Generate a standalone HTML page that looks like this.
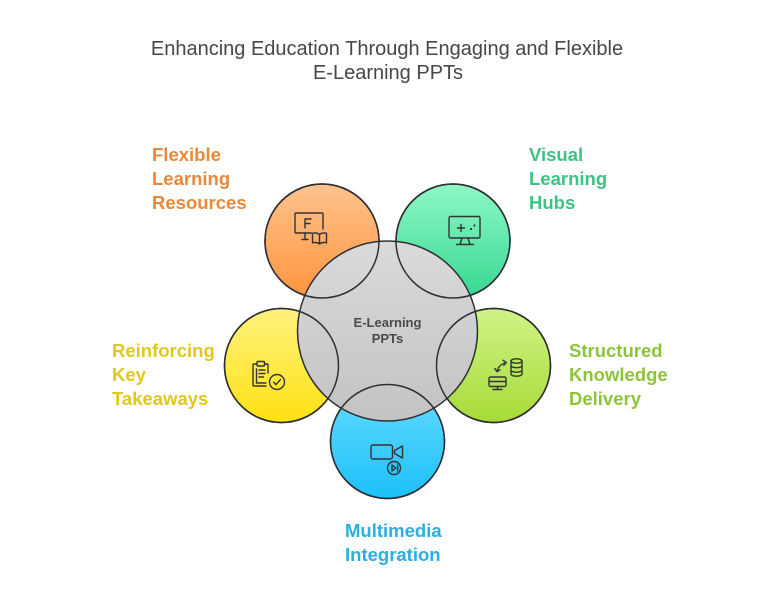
<!DOCTYPE html>
<html>
<head>
<meta charset="utf-8">
<style>
  html, body { margin:0; padding:0; background:#ffffff; }
  body { width:780px; height:605px; overflow:hidden; }
  svg { display:block; }
  .t { font-family:"Liberation Sans", Arial, sans-serif; }
</style>
</head>
<body>
<svg width="780" height="605" viewBox="0 0 780 605" xmlns="http://www.w3.org/2000/svg">
  <defs>
    <linearGradient id="gO" x1="0" y1="0" x2="0" y2="1">
      <stop offset="0" stop-color="#FFC38E"/>
      <stop offset="1" stop-color="#FF953E"/>
    </linearGradient>
    <linearGradient id="gG" x1="0" y1="0" x2="0" y2="1">
      <stop offset="0" stop-color="#8DF8C6"/>
      <stop offset="1" stop-color="#38D792"/>
    </linearGradient>
    <linearGradient id="gY" x1="0" y1="0" x2="0" y2="1">
      <stop offset="0" stop-color="#FFF27F"/>
      <stop offset="1" stop-color="#FFE112"/>
    </linearGradient>
    <linearGradient id="gL" x1="0" y1="0" x2="0" y2="1">
      <stop offset="0" stop-color="#CFF487"/>
      <stop offset="1" stop-color="#A6DB36"/>
    </linearGradient>
    <linearGradient id="gB" x1="0" y1="0" x2="0" y2="1">
      <stop offset="0" stop-color="#66DCFF"/>
      <stop offset="1" stop-color="#1CC0F9"/>
    </linearGradient>
    <linearGradient id="gC" x1="0" y1="0" x2="0" y2="1">
      <stop offset="0" stop-color="#DADADA"/>
      <stop offset="1" stop-color="#C3C3C3"/>
    </linearGradient>
  </defs>

  <!-- Title -->
  <text class="t" x="387" y="55" text-anchor="middle" font-size="20" fill="#474747">Enhancing Education Through Engaging and Flexible</text>
  <text class="t" x="388" y="79" text-anchor="middle" font-size="20" fill="#474747">E-Learning PPTs</text>

  <!-- Satellite circles -->
  <g stroke="#2E2E36" stroke-width="1.5">
    <circle cx="322" cy="241" r="57" fill="url(#gO)"/>
    <circle cx="453" cy="241" r="57" fill="url(#gG)"/>
    <circle cx="281.5" cy="365.5" r="57" fill="url(#gY)"/>
    <circle cx="493.5" cy="365.5" r="57" fill="url(#gL)"/>
    <circle cx="387.5" cy="441.5" r="57" fill="url(#gB)"/>
  </g>
  <!-- Center circle -->
  <circle cx="387.5" cy="331" r="90" fill="url(#gC)" stroke="#2E2E36" stroke-width="1.5"/>
  <!-- Satellite outlines on top -->
  <g stroke="#2E2E36" stroke-width="1.5" fill="none">
    <circle cx="322" cy="241" r="57"/>
    <circle cx="453" cy="241" r="57"/>
    <circle cx="281.5" cy="365.5" r="57"/>
    <circle cx="493.5" cy="365.5" r="57"/>
    <circle cx="387.5" cy="441.5" r="57"/>
  </g>

  <!-- Center text -->
  <text class="t" x="387.5" y="327" text-anchor="middle" font-size="13" font-weight="bold" fill="#4A4A4A">E-Learning</text>
  <text class="t" x="387.5" y="343" text-anchor="middle" font-size="13" font-weight="bold" fill="#4A4A4A">PPTs</text>

  <!-- Icons -->
  <g stroke="#333333" stroke-width="1.4" fill="none" stroke-linecap="round" stroke-linejoin="round">
    <!-- Orange: monitor with F and book -->
    <path d="M311.5,233 H296 Q295,233 295,232 V214 Q295,213 296,213 H322 Q323,213 323,214 V229"/>
    <path d="M305,228 V219 H311 M305,223.5 H310"/>
    <path d="M305,233 V239.5 M302,239.5 H308"/>
    <path d="M319.5,234.5 C317.5,233 314.5,232.8 312.5,233.3 V242.8 C314.5,242.3 317.5,242.5 319.5,244 C321.5,242.5 324.5,242.3 326.5,242.8 V233.3 C324.5,232.8 321.5,233 319.5,234.5 Z M319.5,234.5 V244"/>

    <!-- Green: monitor with plus & dots -->
    <rect x="449" y="216.5" width="31" height="21.5" rx="1.5"/>
    <path d="M462,238 L460,244.5 M468,238 L470,244.5 M456.5,244.5 H473.5"/>
    <path d="M461,224.5 V231.5 M457.5,228 H464.5"/>

    <!-- Lime: database, monitor, arrows -->
    <ellipse cx="516.5" cy="361" rx="5.5" ry="2.2"/>
    <path d="M511,361 V374 A5.5,2.2 0 0 0 522,374 V361 M511,365.5 A5.5,2.2 0 0 0 522,365.5 M511,370 A5.5,2.2 0 0 0 522,370"/>
    <rect x="489" y="377" width="17" height="9.5" rx="1.5"/>
    <path d="M489,381.5 H506 M497.5,386.5 V389.5 M493,389.5 H502"/>
    <path d="M497,371 Q499,364.5 506,362.5 M503,360.2 L506.3,362.4 L503.8,365.3 M494.8,368.6 L497,371.6 L500,369.8"/>

    <!-- Yellow: clipboard with check -->
    <path d="M257,364 H254 Q253,364 253,365 V385 Q253,386 254,386 H266 M264.5,364 H267 Q268,364 268,365 V373"/>
    <rect x="257" y="361.5" width="7.5" height="4.5" rx="1"/>
    <path d="M256.5,369 V383 H266"/>
    <path d="M259,370 H265 M259,373.5 H265 M259,377 H263.5"/>
    <circle cx="277" cy="382" r="7.5"/>
    <path d="M273.6,382.2 L276,384.6 L280.4,379.6"/>

    <!-- Blue: video camera with play -->
    <rect x="371" y="445" width="21.5" height="14" rx="2"/>
    <path d="M394.5,450.5 L402.5,446 V458 L394.5,453.5 Z"/>
    <circle cx="394" cy="468" r="6.5" fill="#33C6F9"/>
    <path d="M392,465 L395.8,468 L392,471 Z M397.6,465 V471"/>
  </g>
  <circle cx="471" cy="229" r="1.1" fill="#333"/>
  <circle cx="474.5" cy="225.5" r="1.1" fill="#333"/>

  <!-- Labels -->
  <g class="t" font-size="18.5" font-weight="bold">
    <text x="152" y="161" fill="#E8883A">Flexible</text>
    <text x="152" y="185" fill="#E8883A">Learning</text>
    <text x="152" y="209" fill="#E8883A">Resources</text>

    <text x="529" y="161" fill="#3CC383">Visual</text>
    <text x="529" y="185" fill="#3CC383">Learning</text>
    <text x="529" y="209" fill="#3CC383">Hubs</text>

    <text x="112" y="357" fill="#E0C81C">Reinforcing</text>
    <text x="112" y="381" fill="#E0C81C">Key</text>
    <text x="112" y="405" fill="#E0C81C">Takeaways</text>

    <text x="569" y="357" fill="#8CC43A">Structured</text>
    <text x="569" y="381" fill="#8CC43A">Knowledge</text>
    <text x="569" y="405" fill="#8CC43A">Delivery</text>

    <text x="345" y="537" fill="#2AAFE0">Multimedia</text>
    <text x="345" y="561" fill="#2AAFE0">Integration</text>
  </g>
</svg>
</body>
</html>
